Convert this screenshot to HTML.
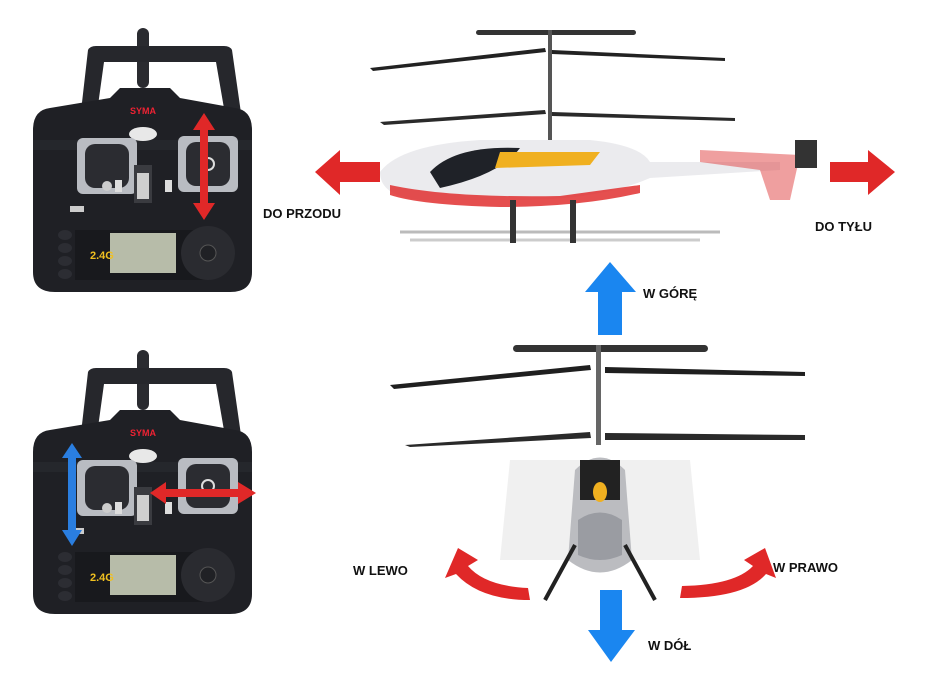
<!DOCTYPE html>
<html><head><meta charset="utf-8"><style>
html,body{margin:0;padding:0;background:#fff;width:933px;height:675px;overflow:hidden}
svg text{font-family:"Liberation Sans",sans-serif;font-weight:bold;font-size:13px;fill:#111}
</style></head><body>
<svg width="933" height="675" viewBox="0 0 933 675" xmlns="http://www.w3.org/2000/svg">
<defs>
<g id="ctrl">
  <rect x="107" y="18" width="12" height="60" rx="6" fill="#2a2b30"/>
  <path d="M50 110 L58 40 Q60 36 66 36 L194 36 Q200 36 202 40 L212 110 L196 110 L186 52 L74 52 L66 110 Z" fill="#26272c"/>
  <path d="M3 120 Q3 100 20 98 L80 88 L90 78 L140 78 L150 88 L205 98 Q222 100 222 120 L222 262 Q222 282 200 282 L25 282 Q3 282 3 262 Z" fill="#1f2025"/>
  <path d="M3 130 L222 130 L222 140 L3 140Z" fill="#2c2d33" opacity=".5"/>
  <text x="113" y="104" text-anchor="middle" style="font-size:9px;fill:#e23">SYMA</text>
  <ellipse cx="113" cy="124" rx="14" ry="7" fill="#e8e8e8"/>
  <rect x="47" y="128" width="60" height="56" rx="6" fill="#b9bcc2"/>
  <rect x="55" y="134" width="44" height="44" rx="10" fill="#2b2c31"/>
  <circle cx="77" cy="176" r="5" fill="#ccc"/>
  <rect x="148" y="126" width="60" height="56" rx="6" fill="#b9bcc2"/>
  <rect x="156" y="132" width="44" height="44" rx="10" fill="#2b2c31"/>
  <circle cx="178" cy="154" r="6" fill="none" stroke="#ddd" stroke-width="2"/>
  <rect x="104" y="155" width="18" height="38" fill="#3a3b40"/>
  <rect x="107" y="163" width="12" height="26" fill="#cfcfcf"/>
  <rect x="85" y="170" width="7" height="12" fill="#ddd"/>
  <rect x="135" y="170" width="7" height="12" fill="#ddd"/>
  <rect x="40" y="196" width="14" height="6" fill="#ccc"/>
  <rect x="45" y="220" width="135" height="50" fill="#18191d"/>
  <rect x="80" y="223" width="66" height="40" fill="#b7bca9"/>
  <text x="60" y="249" style="font-size:11px;fill:#f0c020">2.4G</text>
  <circle cx="178" cy="243" r="27" fill="#2a2b30"/>
  <circle cx="178" cy="243" r="8" fill="#202125" stroke="#555"/>
  <g fill="#2c2d33"><ellipse cx="35" cy="225" rx="7" ry="5"/><ellipse cx="35" cy="238" rx="7" ry="5"/><ellipse cx="35" cy="251" rx="7" ry="5"/><ellipse cx="35" cy="264" rx="7" ry="5"/></g>
</g>
</defs>

<use href="#ctrl" x="30" y="10"/>
<use href="#ctrl" x="30" y="332"/>

<path d="M204 113 L193 130 L200 130 L200 203 L193 203 L204 220 L215 203 L208 203 L208 130 L215 130Z" fill="#e02828"/>
<path d="M72 443 L62 458 L68 458 L68 530 L62 530 L72 546 L82 530 L76 530 L76 458 L82 458Z" fill="#2a7ee0"/>
<path d="M150 493 L166 482 L166 489 L238 489 L238 482 L256 493 L238 504 L238 497 L166 497 L166 504Z" fill="#e02828"/>

<!-- top helicopter -->
<g>
  <rect x="476" y="30" width="160" height="5" rx="2.5" fill="#333"/>
  <rect x="548" y="30" width="4" height="110" fill="#555"/>
  <path d="M370 68 L545 48 L546 52 L373 71Z" fill="#222"/>
  <path d="M552 50 L725 58 L725 61 L552 54Z" fill="#222"/>
  <path d="M380 122 L545 110 L546 114 L384 125Z" fill="#2a2a2a"/>
  <path d="M552 112 L735 118 L735 121 L552 116Z" fill="#2a2a2a"/>
  <path d="M380 172 Q400 145 480 140 L590 140 Q640 145 650 162 L780 162 L780 170 L650 178 Q600 200 520 200 L420 200 Q380 196 380 172Z" fill="#e9e9ec" opacity=".9"/>
  <path d="M390 185 Q450 198 560 196 L640 185 L640 193 Q580 207 500 207 Q420 205 390 195Z" fill="#e03030" opacity=".85"/>
  <path d="M430 172 Q455 145 520 148 Q500 175 440 188Z" fill="#1f2228"/>
  <path d="M500 152 L600 152 L590 165 L495 168Z" fill="#f0b020"/>
  <path d="M700 150 L800 155 L790 200 L770 200 L760 170 L700 162Z" fill="#e04040" opacity=".5"/>
  <rect x="795" y="140" width="22" height="28" fill="#333"/>
  <path d="M400 232 L720 232" stroke="#bbb" stroke-width="3"/>
  <path d="M410 240 L700 240" stroke="#ccc" stroke-width="3"/>
  <rect x="510" y="200" width="6" height="43" fill="#333"/>
  <rect x="570" y="200" width="6" height="43" fill="#333"/>
</g>
<path d="M315 172 L340 150 L340 162 L380 162 L380 182 L340 182 L340 195Z" fill="#e02828"/>
<path d="M895 172 L868 150 L868 162 L830 162 L830 182 L868 182 L868 195Z" fill="#e02828"/>

<!-- bottom helicopter -->
<g>
  <rect x="513" y="345" width="195" height="7" rx="3.5" fill="#333"/>
  <rect x="596" y="345" width="5" height="100" fill="#666"/>
  <path d="M390 385 L590 365 L591 370 L394 389Z" fill="#1f1f1f"/>
  <path d="M605 367 L805 372 L805 376 L605 373Z" fill="#1f1f1f"/>
  <path d="M405 445 L590 432 L591 438 L410 447Z" fill="#2a2a2a"/>
  <path d="M605 433 L805 435 L805 440 L605 440Z" fill="#2a2a2a"/>
  <path d="M510 460 L690 460 L700 560 L500 560Z" fill="#e9e9ea" opacity=".7"/>
  <path d="M575 470 Q600 445 625 470 L632 560 Q600 585 568 560Z" fill="#bbbcc0"/>
  <path d="M580 460 L620 460 L620 500 L580 500Z" fill="#222"/>
  <ellipse cx="600" cy="492" rx="7" ry="10" fill="#f0b020"/>
  <path d="M578 520 Q600 505 622 520 L622 555 Q600 565 578 555Z" fill="#9a9ca2"/>
  <path d="M545 600 L575 545 M655 600 L625 545" stroke="#222" stroke-width="4" fill="none"/>
</g>
<path d="M610 262 L585 292 L598 292 L598 335 L622 335 L622 292 L636 292Z" fill="#1a86f0"/>
<path d="M611 662 L588 630 L600 630 L600 590 L622 590 L622 630 L635 630Z" fill="#1a86f0"/>
<path d="M458 548 L445 578 L456 574 Q480 600 530 600 L528 588 Q485 586 468 566 L478 560Z" fill="#e02828"/>
<path d="M765 548 L776 578 L766 574 Q745 598 680 598 L682 586 Q735 585 753 566 L744 560Z" fill="#e02828"/>

<text x="263" y="218">DO PRZODU</text>
<text x="815" y="231">DO TYŁU</text>
<text x="643" y="298">W GÓRĘ</text>
<text x="353" y="575">W LEWO</text>
<text x="773" y="572">W PRAWO</text>
<text x="648" y="650">W DÓŁ</text>
</svg>
</body></html>
